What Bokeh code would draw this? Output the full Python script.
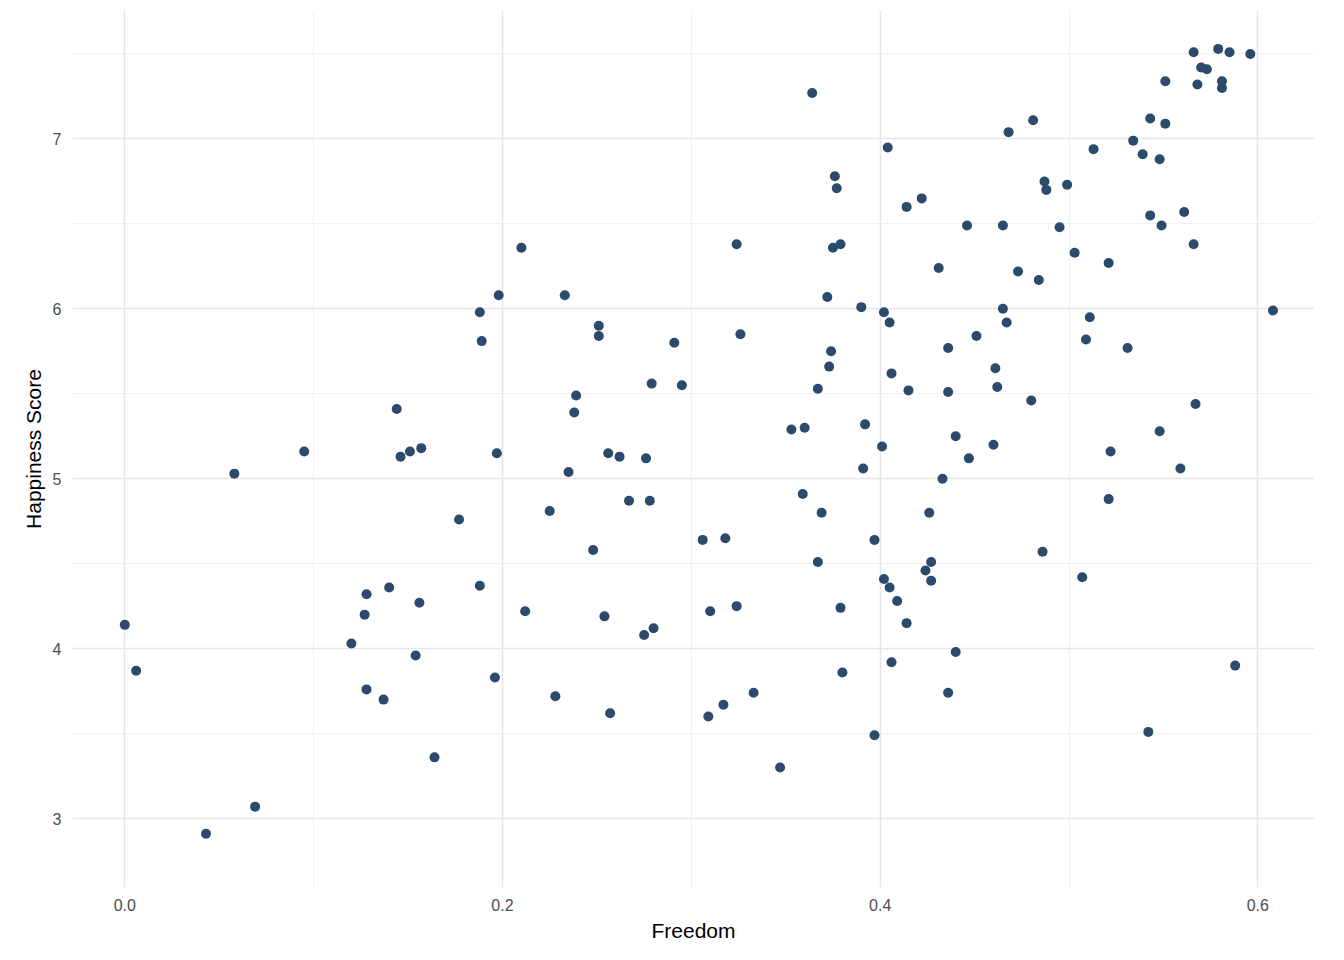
from bokeh.plotting import figure
from bokeh.models import FixedTicker, CustomJSTickFormatter, Range1d
from bokeh.embed import file_html
from bokeh.resources import INLINE

freedom = [0.000, 0.006, 0.043, 0.058, 0.069, 0.095, 0.120, 0.128, 0.127, 0.128,
           0.137, 0.140, 0.144, 0.146, 0.151, 0.157, 0.156, 0.154, 0.164, 0.177,
           0.188, 0.189, 0.188, 0.198, 0.197, 0.196, 0.210, 0.212, 0.225, 0.228,
           0.233, 0.235, 0.239, 0.238, 0.248, 0.251, 0.251, 0.254, 0.256, 0.257,
           0.262, 0.267, 0.275, 0.276, 0.278, 0.279, 0.280, 0.291, 0.295, 0.306,
           0.309, 0.310, 0.318, 0.317, 0.324, 0.324, 0.326, 0.333, 0.347, 0.353,
           0.360, 0.359, 0.364, 0.367, 0.367, 0.369, 0.372, 0.373, 0.374, 0.375,
           0.376, 0.377, 0.379, 0.379, 0.380, 0.390, 0.391, 0.392, 0.397, 0.397,
           0.401, 0.402, 0.402, 0.404, 0.405, 0.405, 0.406, 0.406, 0.409, 0.414,
           0.415, 0.414, 0.422, 0.424, 0.427, 0.426, 0.427, 0.431, 0.433, 0.436,
           0.436, 0.436, 0.440, 0.440, 0.446, 0.447, 0.451, 0.460, 0.461, 0.462,
           0.465, 0.465, 0.467, 0.468, 0.473, 0.480, 0.481, 0.484, 0.486, 0.487,
           0.488, 0.495, 0.499, 0.503, 0.507, 0.509, 0.511, 0.513, 0.521, 0.521,
           0.522, 0.531, 0.534, 0.539, 0.542, 0.543, 0.543, 0.548, 0.548, 0.549,
           0.551, 0.551, 0.559, 0.561, 0.566, 0.566, 0.567, 0.568, 0.570, 0.573,
           0.579, 0.581, 0.581, 0.585, 0.588, 0.596, 0.608]
happiness = [4.14, 3.87, 2.91, 5.03, 3.07, 5.16, 4.03, 4.32, 4.20, 3.76,
             3.70, 4.36, 5.41, 5.13, 5.16, 5.18, 4.27, 3.96, 3.36, 4.76,
             5.98, 5.81, 4.37, 6.08, 5.15, 3.83, 6.36, 4.22, 4.81, 3.72,
             6.08, 5.04, 5.49, 5.39, 4.58, 5.90, 5.84, 4.19, 5.15, 3.62,
             5.13, 4.87, 4.08, 5.12, 4.87, 5.56, 4.12, 5.80, 5.55, 4.64,
             3.60, 4.22, 4.65, 3.67, 6.38, 4.25, 5.85, 3.74, 3.30, 5.29,
             5.30, 4.91, 7.27, 4.51, 5.53, 4.80, 6.07, 5.66, 5.75, 6.36,
             6.78, 6.71, 6.38, 4.24, 3.86, 6.01, 5.06, 5.32, 4.64, 3.49,
             5.19, 5.98, 4.41, 6.95, 5.92, 4.36, 5.62, 3.92, 4.28, 6.60,
             5.52, 4.15, 6.65, 4.46, 4.51, 4.80, 4.40, 6.24, 5.00, 5.77,
             5.51, 3.74, 5.25, 3.98, 6.49, 5.12, 5.84, 5.20, 5.65, 5.54,
             6.49, 6.00, 5.92, 7.04, 6.22, 5.46, 7.11, 6.17, 4.57, 6.75,
             6.70, 6.48, 6.73, 6.33, 4.42, 5.82, 5.95, 6.94, 6.27, 4.88,
             5.16, 5.77, 6.99, 6.91, 3.51, 6.55, 7.12, 5.28, 6.88, 6.49,
             7.09, 7.34, 5.06, 6.57, 7.51, 6.38, 5.44, 7.32, 7.42, 7.41,
             7.53, 7.34, 7.30, 7.51, 3.90, 7.50, 5.99]

x_ticks = [0.0, 0.2, 0.4, 0.6]
y_ticks = [3, 4, 5, 6, 7]

p = figure(width=1328, height=944, output_backend="svg", toolbar_location=None,
           x_range=Range1d(-0.0277, 0.630), y_range=Range1d(2.594, 7.756),
           x_axis_label="Freedom", y_axis_label="Happiness Score",
           min_border_left=72, min_border_top=10, min_border_right=14, min_border_bottom=10)
p.outline_line_color = None
p.background_fill_color = "white"

p.scatter(freedom, happiness, size=10, color="#2C4A6B", line_color=None)

p.xaxis.ticker = FixedTicker(ticks=x_ticks, minor_ticks=[0.1, 0.3, 0.5])
p.yaxis.ticker = FixedTicker(ticks=y_ticks, minor_ticks=[3.5, 4.5, 5.5, 6.5, 7.5])
p.xaxis.formatter = CustomJSTickFormatter(code="return tick.toFixed(1);")

for ax in [p.xaxis, p.yaxis]:
    ax.axis_line_color = None
    ax.major_tick_line_color = None
    ax.minor_tick_line_color = None
    ax.major_label_text_font = "Liberation Sans"
    ax.major_label_text_font_size = "16px"
    ax.major_label_text_color = "#4d4d4d"
    ax.axis_label_text_font = "Liberation Sans"
    ax.axis_label_text_font_size = "21px"
    ax.axis_label_text_font_style = "normal"
    ax.axis_label_text_color = "black"

for g in [p.xgrid, p.ygrid]:
    g.grid_line_color = "#e6e6e6"
    g.grid_line_width = 1.6
    g.minor_grid_line_color = "#eeeeee"
    g.minor_grid_line_width = 0.9

open("out.html", "w").write(file_html(p, INLINE))
